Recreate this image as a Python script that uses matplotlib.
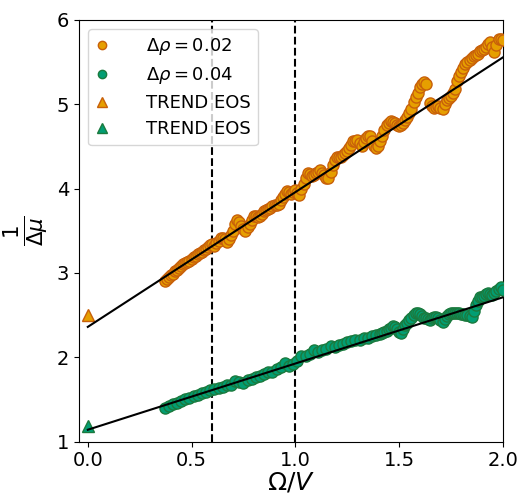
import matplotlib
matplotlib.use("Agg")
import matplotlib.pyplot as plt

# ---- data ----
orange_x = [0.37, 0.38, 0.39, 0.40, 0.41, 0.42, 0.43, 0.44, 0.45, 0.46, 0.47, 0.48,
            0.49, 0.50, 0.51, 0.52, 0.53, 0.54, 0.55, 0.56, 0.57, 0.58, 0.59, 0.60,
            0.61, 0.62, 0.63, 0.64, 0.65, 0.66, 0.67, 0.68, 0.69, 0.70, 0.71, 0.72,
            0.73, 0.74, 0.75, 0.76, 0.77, 0.78, 0.79, 0.80, 0.81, 0.82, 0.83, 0.84,
            0.85, 0.86, 0.87, 0.88, 0.89, 0.90, 0.91, 0.92, 0.93, 0.94, 0.95, 0.96,
            0.97, 0.98, 0.99, 1.00, 1.01, 1.02, 1.03, 1.04, 1.05, 1.06, 1.07, 1.08,
            1.09, 1.10, 1.11, 1.12, 1.13, 1.14, 1.15, 1.16, 1.17, 1.18, 1.19, 1.20,
            1.21, 1.22, 1.23, 1.24, 1.25, 1.26, 1.27, 1.28, 1.29, 1.30, 1.31, 1.32,
            1.33, 1.34, 1.35, 1.36, 1.37, 1.38, 1.39, 1.40, 1.41, 1.42, 1.43, 1.44,
            1.45, 1.46, 1.47, 1.48, 1.49, 1.50, 1.51, 1.52, 1.53, 1.54, 1.55, 1.56,
            1.57, 1.58, 1.59, 1.60, 1.61, 1.62, 1.63, 1.65, 1.66, 1.67, 1.68, 1.69,
            1.70, 1.71, 1.72, 1.73, 1.74, 1.75, 1.76, 1.77, 1.78, 1.79, 1.80, 1.81,
            1.82, 1.83, 1.84, 1.85, 1.86, 1.87, 1.88, 1.89, 1.90, 1.91, 1.92, 1.93,
            1.94, 1.95, 1.96, 1.97, 1.98, 1.99, 2.00]
orange_y = [2.91, 2.93, 2.95, 2.97, 2.99, 3.02, 3.04, 3.06, 3.08, 3.10, 3.12, 3.13,
            3.14, 3.17, 3.19, 3.20, 3.22, 3.24, 3.25, 3.27, 3.28, 3.31, 3.33, 3.34,
            3.32, 3.35, 3.38, 3.41, 3.42, 3.40, 3.37, 3.40, 3.45, 3.50, 3.58, 3.63,
            3.60, 3.56, 3.52, 3.50, 3.54, 3.58, 3.63, 3.68, 3.67, 3.66, 3.68, 3.70,
            3.73, 3.75, 3.76, 3.77, 3.79, 3.80, 3.81, 3.82, 3.86, 3.90, 3.94, 3.97,
            3.96, 3.94, 3.96, 3.98, 3.95, 3.93, 3.99, 4.05, 4.12, 4.18, 4.17, 4.15,
            4.16, 4.18, 4.20, 4.22, 4.19, 4.16, 4.13, 4.12, 4.20, 4.28, 4.34, 4.38,
            4.37, 4.38, 4.40, 4.42, 4.45, 4.48, 4.52, 4.56, 4.57, 4.58, 4.54, 4.50,
            4.55, 4.60, 4.62, 4.63, 4.56, 4.50, 4.48, 4.50, 4.56, 4.62, 4.70, 4.76,
            4.78, 4.80, 4.79, 4.78, 4.76, 4.74, 4.76, 4.78, 4.81, 4.85, 4.90, 4.95,
            5.03, 5.09, 5.14, 5.21, 5.24, 5.27, 5.24, 5.01, 4.98, 4.96, 4.97, 4.98,
            4.96, 4.95, 5.00, 5.05, 5.08, 5.10, 5.14, 5.18, 5.28, 5.33, 5.38, 5.43,
            5.48, 5.50, 5.52, 5.55, 5.57, 5.58, 5.60, 5.63, 5.65, 5.66, 5.68, 5.71,
            5.74, 5.68, 5.62, 5.70, 5.78, 5.77, 5.76]

green_x = [0.37, 0.39, 0.41, 0.43, 0.45, 0.47, 0.49, 0.51, 0.53, 0.55, 0.57, 0.59,
           0.61, 0.63, 0.65, 0.67, 0.69, 0.71, 0.73, 0.75, 0.77, 0.79, 0.81, 0.83,
           0.85, 0.87, 0.89, 0.91, 0.93, 0.95, 0.97, 0.99, 1.01, 1.03, 1.05, 1.07,
           1.09, 1.11, 1.13, 1.15, 1.17, 1.19, 1.21, 1.23, 1.25, 1.27, 1.29, 1.31,
           1.33, 1.35, 1.37, 1.39, 1.41, 1.42, 1.43, 1.44, 1.45, 1.46, 1.47, 1.48,
           1.49, 1.50, 1.51, 1.52, 1.53, 1.54, 1.55, 1.56, 1.57, 1.58, 1.59, 1.60,
           1.61, 1.62, 1.63, 1.64, 1.65, 1.66, 1.67, 1.68, 1.69, 1.70, 1.71, 1.72,
           1.73, 1.74, 1.75, 1.76, 1.77, 1.78, 1.79, 1.80, 1.81, 1.82, 1.83, 1.84,
           1.85, 1.86, 1.87, 1.88, 1.89, 1.90, 1.91, 1.92, 1.93, 1.94, 1.95, 1.96,
           1.97, 1.98, 1.99, 2.00]
green_y = [1.40, 1.42, 1.44, 1.46, 1.48, 1.50, 1.52, 1.54, 1.55, 1.57, 1.59, 1.61,
           1.62, 1.64, 1.65, 1.67, 1.67, 1.72, 1.71, 1.69, 1.73, 1.74, 1.76, 1.78,
           1.80, 1.82, 1.83, 1.86, 1.88, 1.93, 1.90, 1.92, 1.96, 2.01, 2.02, 2.04,
           2.08, 2.06, 2.08, 2.10, 2.13, 2.12, 2.15, 2.16, 2.18, 2.19, 2.20, 2.21,
           2.23, 2.23, 2.25, 2.26, 2.28, 2.29, 2.30, 2.31, 2.33, 2.35, 2.37, 2.36,
           2.33, 2.30, 2.29, 2.33, 2.38, 2.41, 2.44, 2.47, 2.50, 2.52, 2.52, 2.51,
           2.49, 2.47, 2.46, 2.45, 2.44, 2.46, 2.48, 2.48, 2.47, 2.44, 2.42, 2.45,
           2.49, 2.51, 2.52, 2.53, 2.53, 2.52, 2.52, 2.51, 2.51, 2.50, 2.50, 2.49,
           2.48, 2.55, 2.62, 2.67, 2.71, 2.72, 2.73, 2.75, 2.76, 2.75, 2.74, 2.76,
           2.78, 2.81, 2.83, 2.80]

fit_x = [0.0, 2.0]
orange_fit = [2.36, 5.555]
green_fit = [1.14, 2.71]

trend_x = [0.0]
orange_trend = [2.50]
green_trend = [1.18]

vlines_x = [0.6, 1.0]

labels = [r"$\Delta\rho = 0.02$", r"$\Delta\rho = 0.04$", "TREND EOS", "TREND EOS"]

# ---- style ----
ORANGE = "#E69F00"
ORANGE_EDGE = "#C8600A"
GREEN = "#029E73"
GREEN_EDGE = "#1B7A3E"

fig = plt.figure(figsize=(5.19, 4.95), dpi=100)
ax = fig.add_axes([0.152, 0.108, 0.8166, 0.8516])

ax.plot(orange_x, orange_y, 'o', color=ORANGE, mec=ORANGE_EDGE, mew=1.0, ms=8,
        label=labels[0], zorder=3)
ax.plot(green_x, green_y, 'o', color=GREEN, mec=GREEN_EDGE, mew=1.0, ms=8,
        label=labels[1], zorder=3)
ax.plot(trend_x, orange_trend, '^', color=ORANGE, mec=ORANGE_EDGE, mew=1.0, ms=9,
        label=labels[2], zorder=3, clip_on=False)
ax.plot(trend_x, green_trend, '^', color=GREEN, mec=GREEN_EDGE, mew=1.0, ms=9,
        label=labels[3], zorder=3, clip_on=False)

ax.plot(fit_x, orange_fit, '-', color='black', lw=1.5, zorder=4)
ax.plot(fit_x, green_fit, '-', color='black', lw=1.5, zorder=4)

for xv in vlines_x:
    ax.axvline(xv, color='black', ls='--', lw=1.5, zorder=2)

ax.set_xlim(-0.043, 2.0)
ax.set_ylim(1, 6)
ax.set_xticks([0.0, 0.5, 1.0, 1.5, 2.0])
ax.set_yticks([1, 2, 3, 4, 5, 6])
ax.tick_params(labelsize=14)
ax.set_xlabel(r"$\Omega/V$", fontsize=18, labelpad=0)
ax.set_ylabel(r"$\frac{1}{\Delta\mu}$", fontsize=22)
ax.yaxis.set_label_coords(-0.068, 0.5)

ax.legend(loc='upper left', fontsize=13, handlelength=0.8, handletextpad=2.0,
          borderpad=0.4, labelspacing=0.44, markerscale=0.75)

fig.savefig("out.png", dpi=100)
